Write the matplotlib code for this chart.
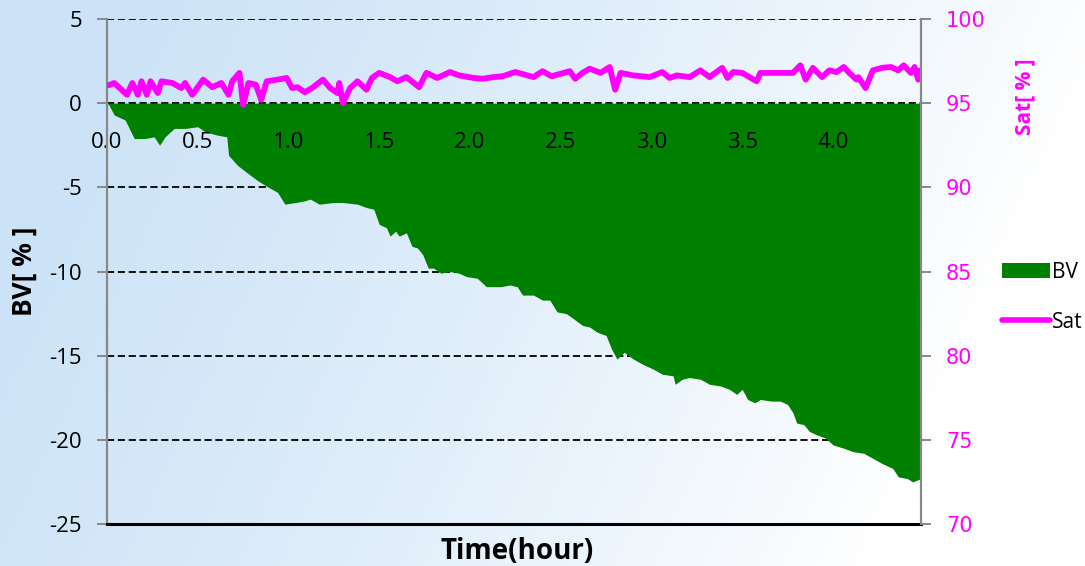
import numpy as np
import matplotlib
matplotlib.use("Agg")
import matplotlib.pyplot as plt
from matplotlib.patches import Patch
from matplotlib.lines import Line2D

# BV [%] (time in hours)
bv_time = [0.0, 0.01, 0.04, 0.10, 0.15, 0.21, 0.26, 0.29, 0.32, 0.37, 0.43, 0.50, 0.54, 0.61, 0.66,
           0.67, 0.72, 0.78, 0.83, 0.89, 0.94, 0.98, 1.04, 1.09, 1.12, 1.17, 1.25, 1.30, 1.38, 1.43,
           1.47, 1.50, 1.54, 1.56, 1.59, 1.61, 1.65, 1.68, 1.71, 1.74, 1.77, 1.80, 1.84, 1.89, 1.94,
           1.98, 2.04, 2.09, 2.15, 2.17, 2.22, 2.26, 2.29, 2.35, 2.40, 2.44, 2.48, 2.53, 2.57, 2.62,
           2.66, 2.70, 2.75, 2.78, 2.81, 2.85, 2.90, 2.95, 3.01, 3.06, 3.12, 3.13, 3.17, 3.21, 3.27,
           3.32, 3.38, 3.43, 3.47, 3.50, 3.53, 3.57, 3.60, 3.66, 3.71, 3.75, 3.78, 3.80, 3.84, 3.87,
           3.91, 3.96, 4.00, 4.06, 4.11, 4.17, 4.22, 4.27, 4.33, 4.36, 4.41, 4.44, 4.485]
bv = [0.0, -0.1, -0.7, -1.0, -2.1, -2.1, -2.0, -2.5, -2.0, -1.5, -1.5, -1.4, -1.7, -1.9, -2.0,
      -3.1, -3.7, -4.2, -4.6, -5.0, -5.3, -6.0, -5.9, -5.8, -5.7, -6.0, -5.9, -5.9, -6.0, -6.2,
      -6.3, -7.2, -7.4, -7.9, -7.6, -7.9, -7.7, -8.5, -8.6, -9.0, -9.8, -9.8, -10.1, -10.0, -10.1,
      -10.3, -10.4, -10.9, -10.9, -10.9, -10.8, -10.9, -11.4, -11.4, -11.7, -11.7, -12.4, -12.5, -12.8, -13.2,
      -13.3, -13.6, -13.8, -14.6, -15.2, -14.8, -15.2, -15.5, -15.8, -16.1, -16.2, -16.7, -16.4, -16.3, -16.4,
      -16.7, -16.8, -17.0, -17.3, -17.0, -17.6, -17.8, -17.6, -17.7, -17.7, -17.9, -18.4, -19.0, -19.1, -19.5,
      -19.7, -19.9, -20.3, -20.5, -20.7, -20.8, -21.1, -21.4, -21.7, -22.2, -22.3, -22.5, -22.3]

# Sat [%]
sat_time = [0.01, 0.04, 0.08, 0.11, 0.14, 0.17, 0.19, 0.22, 0.24, 0.28, 0.30, 0.36, 0.41, 0.43, 0.47,
            0.53, 0.58, 0.63, 0.67, 0.69, 0.73, 0.75, 0.78, 0.82, 0.85, 0.88, 0.94, 0.99, 1.02, 1.05,
            1.09, 1.13, 1.19, 1.23, 1.27, 1.28, 1.30, 1.34, 1.38, 1.43, 1.46, 1.50, 1.56, 1.60, 1.65,
            1.72, 1.76, 1.82, 1.89, 1.94, 2.02, 2.07, 2.13, 2.18, 2.25, 2.30, 2.35, 2.40, 2.45, 2.50,
            2.55, 2.58, 2.62, 2.66, 2.72, 2.77, 2.80, 2.83, 2.90, 2.99, 3.06, 3.10, 3.14, 3.21, 3.27,
            3.32, 3.39, 3.42, 3.45, 3.50, 3.58, 3.60, 3.69, 3.78, 3.82, 3.85, 3.89, 3.94, 3.98, 4.02,
            4.06, 4.09, 4.13, 4.14, 4.18, 4.22, 4.27, 4.32, 4.36, 4.39, 4.43, 4.45, 4.47, 4.48]
sat = [96.07, 96.2, 95.8, 95.5, 96.2, 95.5, 96.3, 95.5, 96.3, 95.6, 96.3, 96.2, 95.9, 96.2, 95.5,
       96.4, 95.95, 96.2, 95.5, 96.3, 96.8, 94.9, 96.2, 96.1, 95.2, 96.3, 96.4, 96.5, 95.9, 95.95,
       95.65, 95.9, 96.4, 95.9, 95.6, 96.2, 95.0, 95.9, 96.3, 95.8, 96.5, 96.8, 96.55, 96.3, 96.55,
       95.95, 96.8, 96.5, 96.85, 96.65, 96.5, 96.45, 96.55, 96.6, 96.85, 96.7, 96.55, 96.9, 96.6, 96.75,
       96.9, 96.45, 96.8, 97.05, 96.8, 97.15, 95.8, 96.8, 96.65, 96.55, 96.85, 96.5, 96.65, 96.55, 96.95,
       96.55, 97.1, 96.5, 96.85, 96.8, 96.3, 96.8, 96.8, 96.8, 97.25, 96.4, 97.1, 96.55, 96.95, 96.85,
       97.15, 96.8, 96.4, 96.55, 95.9, 96.95, 97.1, 97.15, 96.95, 97.25, 96.8, 97.15, 96.4, 96.95]

bv_ticks = [5, 0, -5, -10, -15, -20, -25]
sat_ticks = [100, 95, 90, 85, 80, 75, 70]
time_ticks = [0.0, 0.5, 1.0, 1.5, 2.0, 2.5, 3.0, 3.5, 4.0]

plt.rcParams['font.family'] = ['Open Sans', 'DejaVu Sans']
plt.rcParams['axes.unicode_minus'] = False

fig = plt.figure(figsize=(10.85, 5.66), dpi=100)

# background gradient (light blue on the left fading to white)
bg = fig.add_axes([0, 0, 1, 1], zorder=-10)
gx = np.linspace(0, 1, 300)
gy = np.linspace(0, 1, 150)
X, Y = np.meshgrid(gx, gy)
f = np.clip(X * 1.05 + 0.25 * Y - 0.1, 0, 1) ** 1.3
blue = np.array([0.80, 0.89, 0.97])
white = np.array([1.0, 1.0, 1.0])
img = blue[None, None, :] * (1 - f[..., None]) + white[None, None, :] * f[..., None]
bg.imshow(img, aspect='auto', origin='upper', extent=[0, 1, 0, 1])
bg.axis('off')

ax = fig.add_axes([0.0986, 0.0742, 0.7502, 0.8922])
ax.set_facecolor('none')
ax2 = ax.twinx()
ax2.set_facecolor('none')

for yv in [5, 0, -5, -10, -15, -20]:
    ax.axhline(yv, color='black', lw=1.3, ls=(0, (4, 2)), zorder=0.5)
ax.axhline(-25, color='black', lw=2.2, zorder=3, clip_on=False)

ax.fill_between(bv_time, bv, 0, color='#008000', lw=0, zorder=1)

ax.set_xlim(0, 4.485)
ax.set_ylim(-25, 5)
ax.set_yticks(bv_ticks)
ax.set_xticks(time_ticks)
ax.set_xticklabels(["%.1f" % t for t in time_ticks])
ax.spines['bottom'].set_position(('data', 0))
ax.spines['bottom'].set_color('none')
ax.spines['top'].set_visible(False)
ax.spines['right'].set_visible(False)
ax.spines['left'].set_color('#888888')
ax.spines['left'].set_linewidth(1.6)
ax.tick_params(axis='x', length=0, pad=21, labelsize=16)
ax.tick_params(axis='y', length=7, width=1.4, color='#888888', labelsize=16, pad=11)
ax.set_ylabel('BV[ % ]', fontsize=19, fontweight='bold', labelpad=8)
fig.text(0.477, 0.0, 'Time(hour)', fontsize=20, fontweight='bold', ha='center', va='bottom')

ax2.plot(sat_time, sat, color='#ff00ff', lw=4.2, solid_joinstyle='round', solid_capstyle='round')
ax2.set_ylim(70, 100)
ax2.set_yticks(sat_ticks)
for s in ['top', 'bottom', 'left']:
    ax2.spines[s].set_visible(False)
ax2.spines['right'].set_color('#888888')
ax2.spines['right'].set_linewidth(1.6)
ax2.tick_params(axis='y', length=7, width=1.4, color='#888888', labelcolor='#ff00ff', labelsize=15, pad=11)
for lab in ax2.get_yticklabels():
    lab.set_family('DejaVu Sans')
fig.text(0.945, 0.829, 'Sat[ % ]', fontsize=15, fontweight='bold', color='#ff00ff',
         rotation=90, ha='center', va='center')

handles = [Patch(facecolor='#008000', edgecolor='none'),
           Line2D([0], [0], color='#ff00ff', lw=4, solid_capstyle='round')]
fig.legend(handles, ['BV', 'Sat'], loc='center left', bbox_to_anchor=(0.914, 0.475),
           frameon=False, fontsize=15, handlelength=2.3, handleheight=0.7,
           labelspacing=1.4, handletextpad=0.1, borderpad=0)

fig.savefig('out.png', dpi=100)
